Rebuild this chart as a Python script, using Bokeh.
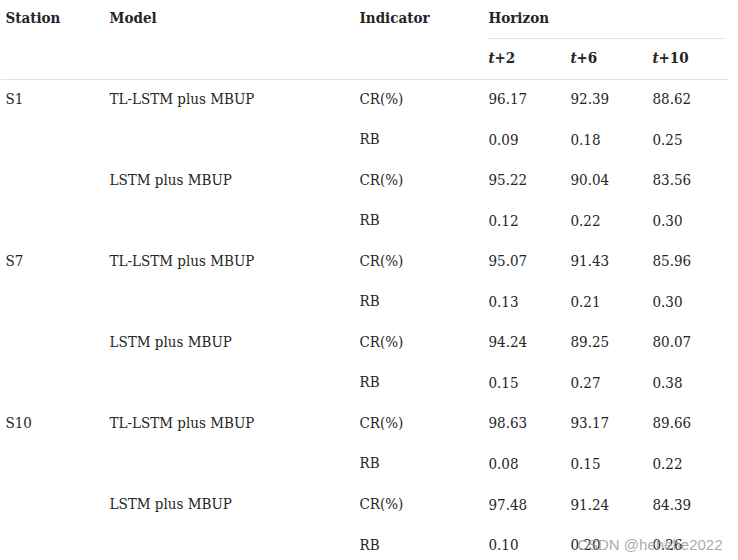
from bokeh.plotting import figure
from bokeh.models import Range1d
from bokeh.core.properties import value
from bokeh.embed import file_html
from bokeh.resources import INLINE

# ---- data ----
headers = ["Station", "Model", "Indicator", "Horizon"]
horizons = ["2", "6", "10"]
stations = ["S1", "S7", "S10"]
models = ["TL-LSTM plus MBUP", "LSTM plus MBUP"]
indicators = ["CR(%)", "RB"]
t2_vals = ["96.17", "0.09", "95.22", "0.12", "95.07", "0.13", "94.24", "0.15", "98.63", "0.08", "97.48", "0.10"]
t6_vals = ["92.39", "0.18", "90.04", "0.22", "91.43", "0.21", "89.25", "0.27", "93.17", "0.15", "91.24", "0.20"]
t10_vals = ["88.62", "0.25", "83.56", "0.30", "85.96", "0.30", "80.07", "0.38", "89.66", "0.22", "84.39", "0.26"]
watermark = "CSDN @hehehe2022"

# ---- layout ----
FONT = value("DejaVu Serif Condensed")
COL = "#252525"
FS = "15px"
col_x = [5, 109, 359, 488]
hor_x = [488, 570, 652]
y_head = 17
y_sub = 57
y0 = 98
step = 40.55

p = figure(width=738, height=560, output_backend="svg", toolbar_location=None,
           x_range=Range1d(0, 738), y_range=Range1d(560, 0),
           min_border=0)
p.axis.visible = False
p.grid.visible = False
p.outline_line_color = None
p.background_fill_color = "white"
p.border_fill_color = "white"

# header
p.text(x=col_x, y=[y_head] * 4, text=headers, text_font=FONT, text_font_size=FS,
       text_font_style="bold", text_color=COL, text_baseline="middle", text_align="left")
# t+N subheaders
p.text(x=hor_x, y=[y_sub] * 3, text=["t"] * 3, text_font=FONT, text_font_size=FS,
       text_font_style="bold italic", text_color=COL, text_baseline="middle", text_align="left")
p.text(x=[h + 6 for h in hor_x], y=[y_sub] * 3, text=["+" + h for h in horizons], text_font=FONT,
       text_font_size=FS, text_font_style="bold", text_color=COL, text_baseline="middle", text_align="left")

# rules
p.segment(x0=[487, 0], y0=[38, 79], x1=[725, 728], y1=[38, 79], line_color="#e4e4e4", line_width=1.2)

# body
n = len(t2_vals)
ys = [y0 + i * step for i in range(n)]
st_x, st_y, st_t = [], [], []
md_x, md_y, md_t = [], [], []
ind_t = []
for i in range(n):
    if i % 4 == 0:
        st_t.append(stations[i // 4]); st_y.append(ys[i]); st_x.append(col_x[0])
    if i % 2 == 0:
        md_t.append(models[(i // 2) % 2]); md_y.append(ys[i]); md_x.append(col_x[1])
    ind_t.append(indicators[i % 2])

p.text(x=st_x, y=st_y, text=st_t, text_font=FONT, text_font_size=FS, text_color=COL,
       text_baseline="middle", text_align="left")
p.text(x=md_x, y=md_y, text=md_t, text_font=FONT, text_font_size=FS, text_color=COL,
       text_baseline="middle", text_align="left")
p.text(x=[col_x[2]] * n, y=ys, text=ind_t, text_font=FONT, text_font_size=FS, text_color=COL,
       text_baseline="middle", text_align="left")
for hx, vals in zip(hor_x, [t2_vals, t6_vals, t10_vals]):
    p.text(x=[hx] * n, y=ys, text=vals, text_font=FONT, text_font_size=FS, text_color=COL,
           text_baseline="middle", text_align="left")

# watermark
p.text(x=[722], y=[544], text=[watermark], text_font=value("Liberation Sans"), text_font_size="15px",
       text_color="#9a9a9a", text_alpha=0.85, text_baseline="middle", text_align="right")

open("out.html", "w").write(file_html(p, INLINE))
